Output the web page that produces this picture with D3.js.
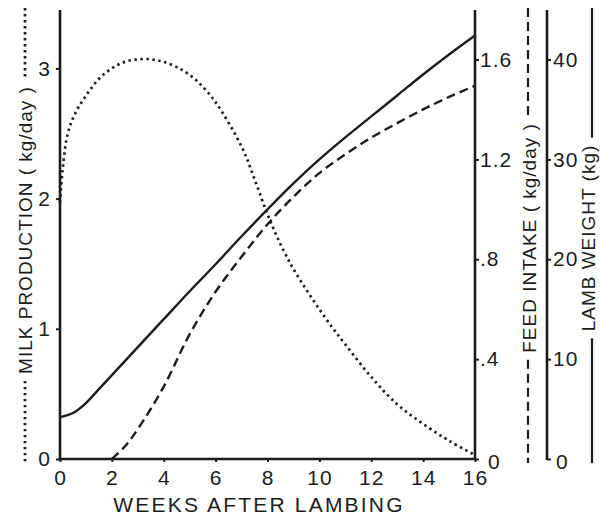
<!DOCTYPE html>
<html>
<head>
<meta charset="utf-8">
<script src="https://cdn.jsdelivr.net/npm/d3@7"></script>
<style>
  body { margin: 0; background: #fff; }
  svg { display: block; }
  text { font-family: "Liberation Sans", Arial, Helvetica, sans-serif; fill: #1c1c1c; }
</style>
</head>
<body>
<script>
// data
var milkWeeks = [0, 0.1, 0.3, 0.6, 1, 1.5, 2, 2.5, 3, 3.5, 4, 4.5, 5, 5.5, 6, 7, 7.5, 8, 8.5, 9, 9.5, 10, 10.5, 11, 12, 13, 14, 15, 16];
var milkYield = [1.97, 2.22, 2.5, 2.66, 2.79, 2.92, 3.0, 3.05, 3.07, 3.07, 3.05, 3.01, 2.95, 2.86, 2.74, 2.4, 2.15, 1.88, 1.65, 1.46, 1.3, 1.15, 1.01, 0.88, 0.63, 0.42, 0.27, 0.14, 0.03];

var feedWeeks = [2, 2.5, 3, 4, 5, 6, 7, 8, 9, 10, 11, 12, 13, 14, 15, 16];
var feedIntake = [0, 0.05, 0.12, 0.29, 0.5, 0.67, 0.81, 0.94, 1.05, 1.145, 1.22, 1.287, 1.345, 1.4, 1.45, 1.495];

var lambWeeks = [0, 0.5, 1, 1.5, 2, 3, 4, 5, 6, 7, 8, 9, 10, 11, 12, 13, 14, 15, 16];
var lambWeight = [4.2, 4.6, 5.6, 7.0, 8.4, 11.2, 14.0, 16.8, 19.5, 22.3, 25.0, 27.6, 30.0, 32.2, 34.3, 36.4, 38.5, 40.5, 42.4];

var weekTicks = [0, 2, 4, 6, 8, 10, 12, 14, 16];
var milkTicks = [0, 1, 2, 3];
var feedTicks = [0, 0.4, 0.8, 1.2, 1.6];
var lambTicks = [0, 10, 20, 30, 40];

var width = 600,
	height = 515;

var ink = "#1c1c1c";
var axisTop = 10;

var svg = d3.select("body").append("svg")
	.attr("width", width)
	.attr("height", height);

var xScale = d3.scaleLinear().domain([0, 16]).range([60, 475]);
var yMilk = d3.scaleLinear().domain([0, 3]).range([459, 68.4]);
var yFeed = d3.scaleLinear().domain([0, 1.6]).range([459, 59.5]);
var yLamb = d3.scaleLinear().domain([0, 40]).range([459, 59.5]);

function pairs(xs, ys){
	return xs.map(function(d, i){ return [d, ys[i]]; });
}

// axis lines
function vline(x, y1, y2){
	svg.append("line")
		.attr("x1", x).attr("x2", x)
		.attr("y1", y1).attr("y2", y2)
		.attr("stroke", ink)
		.attr("stroke-width", 2.6);
}
vline(xScale(0), axisTop, yMilk(0) + 1);
vline(xScale(16), axisTop, yFeed(0) + 1);
var lambX = 547;
vline(lambX, axisTop, yLamb(0) + 1);

svg.append("line")
	.attr("x1", xScale(0) - 1).attr("x2", xScale(16) + 1)
	.attr("y1", yMilk(0)).attr("y2", yMilk(0))
	.attr("stroke", ink)
	.attr("stroke-width", 2.6);

// ticks via d3 axes
var tickFont = 21;

var gx = svg.append("g")
	.attr("transform", "translate(0," + yMilk(0) + ")")
	.call(d3.axisBottom(xScale).tickValues(weekTicks).tickSize(3).tickPadding(5));
gx.selectAll("text").attr("dy", null).attr("y", 26);

var gl = svg.append("g")
	.attr("transform", "translate(" + xScale(0) + ",0)")
	.call(d3.axisLeft(yMilk).tickValues(milkTicks).tickSize(4).tickPadding(5).tickFormat(d3.format("d")));

var gf = svg.append("g")
	.attr("transform", "translate(" + xScale(16) + ",0)")
	.call(d3.axisRight(yFeed).tickValues(feedTicks).tickSize(4).tickPadding(1)
		.tickFormat(function(d){ return d === 0 ? "0" : d3.format(".1f")(d).replace(/^0/, ""); }));
gf.selectAll(".tick").filter(function(d){ return d === 0; }).select("text")
	.attr("x", 13).attr("dy", "0.45em");

var gw = svg.append("g")
	.attr("transform", "translate(" + lambX + ",0)")
	.call(d3.axisRight(yLamb).tickValues(lambTicks).tickSize(4).tickPadding(2));
gw.selectAll(".tick").filter(function(d){ return d === 0; }).select("text")
	.attr("x", 9).attr("dy", "0.45em");

[gx, gl, gf, gw].forEach(function(g){
	g.select(".domain").remove();
	g.selectAll("line").attr("stroke", ink).attr("stroke-width", 2);
	g.selectAll("text")
		.attr("fill", ink)
		.style("font-size", tickFont + "px")
		.style("letter-spacing", "1px");
	g.attr("font-family", null).attr("font-size", null);
});

// curves
var line = d3.line()
	.curve(d3.curveCatmullRom.alpha(0.5));

svg.append("path")
	.datum(pairs(milkWeeks, milkYield))
	.attr("d", line.x(function(d){ return xScale(d[0]); }).y(function(d){ return yMilk(d[1]); }))
	.attr("fill", "none")
	.attr("stroke", ink)
	.attr("stroke-width", 2.7)
	.attr("stroke-dasharray", "2.4,3.6");

svg.append("path")
	.datum(pairs(feedWeeks, feedIntake))
	.attr("d", line.x(function(d){ return xScale(d[0]); }).y(function(d){ return yFeed(d[1]); }))
	.attr("fill", "none")
	.attr("stroke", ink)
	.attr("stroke-width", 2.4)
	.attr("stroke-dasharray", "9,5");

svg.append("path")
	.datum(pairs(lambWeeks, lambWeight))
	.attr("d", line.x(function(d){ return xScale(d[0]); }).y(function(d){ return yLamb(d[1]); }))
	.attr("fill", "none")
	.attr("stroke", ink)
	.attr("stroke-width", 2.4);

// x title
svg.append("text")
	.attr("x", 259)
	.attr("y", 512)
	.attr("text-anchor", "middle")
	.style("font-size", "21px")
	.style("letter-spacing", "2.2px")
	.text("WEEKS AFTER LAMBING");

// rotated titles with their line-style keys
function sideTitle(label, baseX, keyX, cy, dash, sw){
	var t = svg.append("text")
		.attr("transform", "translate(" + baseX + "," + cy + ") rotate(-90)")
		.attr("text-anchor", "middle")
		.style("font-size", "19px")
		.style("letter-spacing", "1px")
		.text(label);
	var half = t.node().getComputedTextLength() / 2;
	[[axisTop - 2, cy - half - 7], [cy + half + 7, yMilk(0) + 4]].forEach(function(s){
		svg.append("line")
			.attr("x1", keyX).attr("x2", keyX)
			.attr("y1", s[0]).attr("y2", s[1])
			.attr("stroke", ink)
			.attr("stroke-width", sw)
			.attr("stroke-dasharray", dash);
	});
}
sideTitle("MILK PRODUCTION ( kg/day )", 32, 25, 230, "2.4,3.6", 2.7);
sideTitle("FEED INTAKE  ( kg/day )", 536, 528, 238, "9,5", 2.2);
sideTitle("LAMB WEIGHT  (kg)", 595, 592, 238, null, 2.2);
</script>
</body>
</html>
